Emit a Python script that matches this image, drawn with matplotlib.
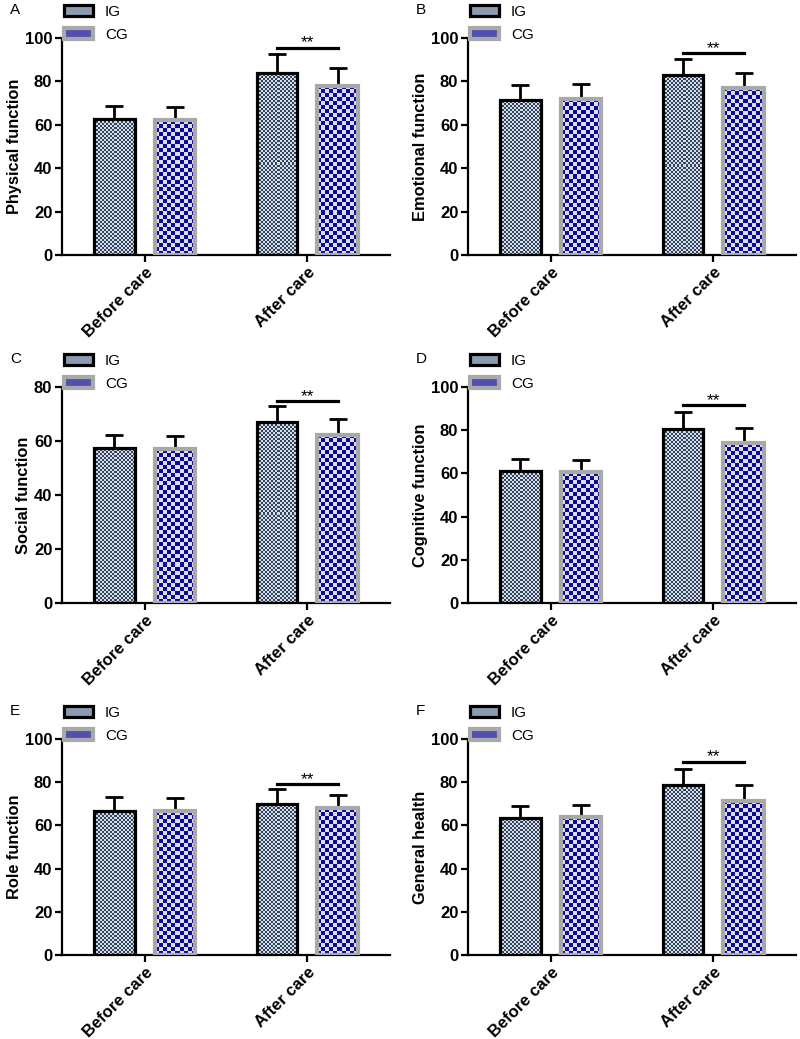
import numpy as np
import matplotlib
matplotlib.use("Agg")
import matplotlib.pyplot as plt
from matplotlib.colors import ListedColormap
from matplotlib.patches import Patch

plt.rcParams['font.family'] = ['Liberation Sans', 'DejaVu Sans']

# data
groups = ["Before care", "After care"]
series = ["IG", "CG"]
letters = ["A", "B", "C", "D", "E", "F"]
ylabels = ["Physical function", "Emotional function", "Social function",
           "Cognitive function", "Role function", "General health"]
ymax = [100, 100, 80, 100, 100, 100]
ig_mean = [[62.5, 84.0], [71.5, 83.0], [57.5, 67.0], [61.0, 80.5], [66.5, 70.0], [63.5, 78.5]]
ig_sd = [[6.0, 8.5], [7.0, 7.5], [4.8, 6.0], [5.8, 7.8], [6.5, 7.0], [5.5, 7.5]]
cg_mean = [[62.0, 78.0], [72.0, 77.0], [57.0, 62.3], [60.5, 74.0], [66.5, 68.0], [64.0, 71.5]]
cg_sd = [[6.0, 8.0], [7.0, 7.0], [5.0, 6.0], [5.8, 7.2], [6.0, 6.0], [5.5, 7.0]]
sig_y = [95.5, 93.0, 74.8, 91.5, 79.0, 89.5]

W, H = 800, 1039
fig = plt.figure(figsize=(W / 100, H / 100), dpi=100)

# axes boxes in pixels: left, top(ymax), bottom(0)
lefts = [62, 468]
rows = [(38, 255), (387, 603), (739, 955)]
ax_w = 328

ig_cmap = ListedColormap(['#34425a', '#d3e0ec'])
cg_cmap = ListedColormap(['#0b0b96', '#dedee8'])
bw = 0.25
off = 0.187
xlim = (-0.51, 1.51)


def checker(ax, bars, cell, cmap, ppy):
    # fill each bar with a checkerboard image clipped to the bar
    ppx = ax_w / (xlim[1] - xlim[0])
    for b in bars:
        x0, wd, h = b.get_x(), b.get_width(), b.get_height()
        nx = max(1, int(round(wd * ppx / cell)))
        ny = max(1, int(round(h * ppy / cell)))
        arr = np.indices((ny, nx)).sum(0) % 2
        im = ax.imshow(arr, cmap=cmap, extent=(x0, x0 + wd, 0, h), aspect='auto',
                       interpolation='nearest', zorder=2)
        im.set_clip_path(b)


for i in range(6):
    r, c = divmod(i, 2)
    top, bot = rows[r]
    ax = fig.add_axes([lefts[c] / W, 1 - bot / H, ax_w / W, (bot - top) / H])
    ppy = (bot - top) / ymax[i]
    x = np.arange(len(groups))

    b1 = ax.bar(x - off, ig_mean[i], bw, color='white', zorder=1)
    b2 = ax.bar(x + off, cg_mean[i], bw, color='white', zorder=1)
    ax.set_xlim(*xlim)
    ax.set_ylim(0, ymax[i])
    checker(ax, b1, 2, ig_cmap, ppy)
    checker(ax, b2, 4, cg_cmap, ppy)
    ax.bar(x - off, ig_mean[i], bw, fill=False, edgecolor='black', linewidth=2.3, zorder=3)
    ax.bar(x + off, cg_mean[i], bw, fill=False, edgecolor='#a9a9a9', linewidth=3.0, zorder=3)

    ax.errorbar(x - off, ig_mean[i], yerr=[[0, 0], ig_sd[i]], fmt='none', ecolor='black',
                elinewidth=2.0, capsize=6.5, capthick=2.0, zorder=2.5)
    ax.errorbar(x + off, cg_mean[i], yerr=[[0, 0], cg_sd[i]], fmt='none', ecolor='black',
                elinewidth=2.0, capsize=6.5, capthick=2.0, zorder=2.5)

    # significance bar
    ax.plot([1 - off, 1 + off], [sig_y[i], sig_y[i]], color='black', lw=2.3, clip_on=False)
    ax.text(1, sig_y[i] - ymax[i] * 0.012, '**', ha='center', va='bottom', fontsize=12.5)

    ax.set_xlim(*xlim)
    ax.set_ylim(0, ymax[i])
    ax.set_yticks(np.arange(0, ymax[i] + 1, 20))
    ax.set_xticks(x)
    ax.set_xticklabels(groups, rotation=45, ha='right', rotation_mode='anchor',
                       fontsize=12, fontweight='bold')
    for t in ax.get_yticklabels():
        t.set_fontweight('bold')
        t.set_fontsize(12)
    ax.set_ylabel(ylabels[i], fontsize=11.8, fontweight='bold', labelpad=2)
    for s in ['top', 'right']:
        ax.spines[s].set_visible(False)
    for s in ['left', 'bottom']:
        ax.spines[s].set_linewidth(1.6)
    ax.tick_params(width=1.6, length=5, pad=2)

    handles = [Patch(facecolor='#8c9cb0', edgecolor='black', linewidth=2.3),
               Patch(facecolor='#5050b0', edgecolor='#a9a9a9', linewidth=3.0)]
    ax.legend(handles, series, loc='center left', frameon=False, fontsize=11,
              bbox_to_anchor=(0.005, 1 + 14.5 / (bot - top)),
              handlelength=1.9, handleheight=0.7, labelspacing=0.6,
              handletextpad=0.8, borderaxespad=0, borderpad=0)

    fig.text((lefts[c] - 52) / W, 1 - (top - 28) / H, letters[i], fontsize=11,
             ha='left', va='center')

fig.savefig('out.png', dpi=100)
